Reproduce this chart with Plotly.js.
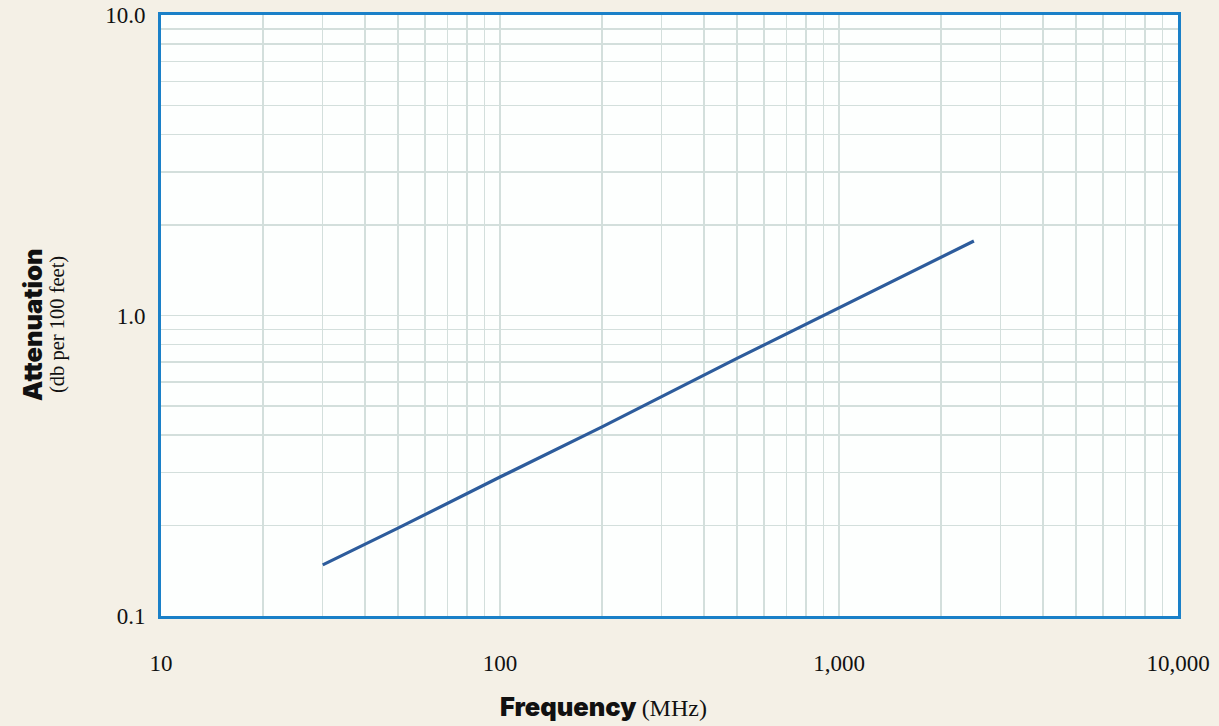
<!DOCTYPE html>
<html>
<head>
<meta charset="utf-8">
<script src="https://cdn.plot.ly/plotly-3.0.1.min.js"></script>
<style>html,body{margin:0;padding:0;background:#f4f0e6;}#chart{width:1219px;height:726px;}</style>
</head>
<body>
<div id="chart"></div>
<script>
// Data
const frequencyMHz = [30, 50, 100, 200, 500, 1000, 2000, 2500];
const attenuationDb = [0.148, 0.196, 0.29, 0.426, 0.72, 1.06, 1.57, 1.77];
const xTickVals = [10, 100, 1000, 10000];
const xTickText = ["10", "100", "1,000", "10,000"];
const yTickVals = [0.1, 1, 10];
const yTickText = ["0.1", "1.0", "10.0"];

const serif = "Liberation Serif, Times New Roman, serif";
const heavy = "Inter, Roboto, sans-serif";
const gridColor = "#d3dfdc";

const trace = {
  x: frequencyMHz,
  y: attenuationDb,
  type: "scatter",
  mode: "lines",
  line: {color: "#2d5c9c", width: 3.2},
  hoverinfo: "x+y"
};

const layout = {
  width: 1219,
  height: 726,
  paper_bgcolor: "#f4f0e6",
  plot_bgcolor: "#fdfffe",
  margin: {l: 161, r: 41, t: 15, b: 110},
  showlegend: false,
  xaxis: {
    type: "log",
    range: [1, 4],
    tickvals: xTickVals,
    ticktext: xTickText,
    ticks: "",
    ticklabelstandoff: 24,
    tickfont: {family: serif, size: 23, color: "#111"},
    showgrid: true,
    gridcolor: gridColor,
    gridwidth: 1.5,
    minor: {dtick: "D1", showgrid: true, gridcolor: gridColor, gridwidth: 1.5, ticks: ""},
    showline: true,
    mirror: true,
    linecolor: "#1a80c8",
    linewidth: 3,
    zeroline: false
  },
  yaxis: {
    type: "log",
    range: [-1, 1],
    tickvals: yTickVals,
    ticktext: yTickText,
    ticks: "",
    ticklabelstandoff: 8,
    tickfont: {family: serif, size: 23, color: "#111"},
    showgrid: true,
    gridcolor: gridColor,
    gridwidth: 1.5,
    minor: {dtick: "D1", showgrid: true, gridcolor: gridColor, gridwidth: 1.5, ticks: ""},
    showline: true,
    mirror: true,
    linecolor: "#1a80c8",
    linewidth: 3,
    zeroline: false
  },
  annotations: [
    {
      xref: "paper", yref: "paper",
      x: (603 - 161) / 1017, y: (616 - 706) / 601,
      xanchor: "center", yanchor: "middle",
      showarrow: false,
      text: 'Frequency <span style="font-family:Liberation Serif;font-weight:400;font-size:24px">(MHz)</span>',
      font: {family: heavy, size: 25.5, weight: 900, color: "#111"}
    },
    {
      xref: "paper", yref: "paper",
      x: (32 - 161) / 1017, y: (616 - 325) / 601,
      xanchor: "center", yanchor: "middle",
      showarrow: false,
      textangle: -90,
      text: "Attenuation",
      font: {family: heavy, size: 25.5, weight: 900, color: "#111"}
    },
    {
      xref: "paper", yref: "paper",
      x: (57 - 161) / 1017, y: (616 - 325) / 601,
      xanchor: "center", yanchor: "middle",
      showarrow: false,
      textangle: -90,
      text: "(db per 100 feet)",
      font: {family: serif, size: 20.5, color: "#111"}
    }
  ]
};

Plotly.newPlot("chart", [trace], layout, {displayModeBar: false, staticPlot: true});
</script>
</body>
</html>
